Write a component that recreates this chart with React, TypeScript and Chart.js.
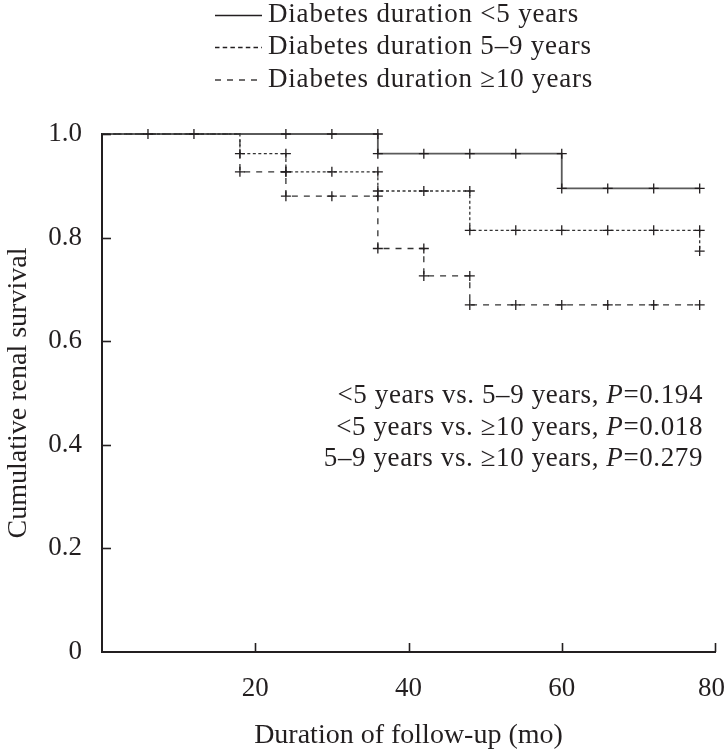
import React, { useEffect, useRef } from 'react';
import { Chart, registerables } from 'chart.js';

Chart.register(...registerables);

// ---- Data ----
const xTicks = [20, 40, 60, 80];
const yTicks = [0, 0.2, 0.4, 0.6, 0.8, 1.0];

const seriesLabels = [
  'Diabetes duration <5 years',
  'Diabetes duration 5–9 years',
  'Diabetes duration ≥10 years',
];

// <5 years (solid)
const lt5Times = [0, 36, 60, 78];
const lt5Surv = [1.0, 0.962, 0.895, 0.895];
const lt5CensorTimes = [24, 30, 36, 36, 42, 48, 54, 60, 60, 66, 72, 78];
const lt5CensorSurv = [1.0, 1.0, 1.0, 0.962, 0.962, 0.962, 0.962, 0.962, 0.895, 0.895, 0.895, 0.895];

// 5–9 years (dotted)
const d59Times = [0, 18, 24, 36, 48, 78];
const d59Surv = [1.0, 0.962, 0.927, 0.890, 0.814, 0.774];
const d59CensorTimes = [18, 24, 24, 30, 36, 36, 42, 48, 48, 54, 60, 66, 72, 78, 78];
const d59CensorSurv = [0.962, 0.962, 0.927, 0.927, 0.927, 0.890, 0.890, 0.890, 0.814, 0.814, 0.814, 0.814, 0.814, 0.814, 0.774];

// >=10 years (dashed)
const ge10Times = [0, 18, 24, 36, 42, 48, 78];
const ge10Surv = [1.0, 0.927, 0.880, 0.779, 0.726, 0.670, 0.670];
const ge10CensorTimes = [6, 12, 18, 24, 24, 30, 36, 36, 42, 42, 48, 48, 54, 60, 66, 72, 78];
const ge10CensorSurv = [1.0, 1.0, 0.927, 0.927, 0.880, 0.880, 0.880, 0.779, 0.779, 0.726, 0.726, 0.670, 0.670, 0.670, 0.670, 0.670, 0.670];

const comparisonLabels = [
  '<5 years vs. 5–9 years, ',
  '<5 years vs. ≥10 years, ',
  '5–9 years vs. ≥10 years, ',
];
const pValues = ['0.194', '0.018', '0.279'];

const xTitle = 'Duration of follow-up (mo)';
const yTitle = 'Cumulative renal survival';

// ---- Styles ----
const INK = '#231f20';
const FONT = "'Liberation Serif', 'Times New Roman', serif";
const FS = 27;
const TITLE_FS = 28;

const toXY = (xs: number[], ys: number[]) => xs.map((x, i) => ({ x, y: ys[i] }));

const decorPlugin = {
  id: 'decor',
  afterDraw(chart: any) {
    const ctx = chart.ctx as any;
    const xs = chart.scales.x;
    const ys = chart.scales.y;
    const { left, bottom } = chart.chartArea;
    const W = chart.width;
    ctx.save();
    // inward tick marks
    ctx.strokeStyle = INK;
    ctx.lineWidth = 1.6;
    xTicks.forEach((v) => {
      const px = Math.round(xs.getPixelForValue(v)) + 0.5;
      ctx.beginPath();
      ctx.moveTo(px, bottom);
      ctx.lineTo(px, bottom - 9);
      ctx.stroke();
    });
    yTicks.filter((v) => v > 0).forEach((v) => {
      const py = Math.round(ys.getPixelForValue(v)) + 0.5;
      ctx.beginPath();
      ctx.moveTo(left, py);
      ctx.lineTo(left + 9, py);
      ctx.stroke();
    });

    // x tick labels (kept inside the canvas)
    ctx.font = `${FS}px ${FONT}`;
    ctx.fillStyle = INK;
    ctx.textBaseline = 'middle';
    ctx.textAlign = 'center';
    xTicks.forEach((v) => {
      const txt = String(v);
      const w = ctx.measureText(txt).width;
      const px = Math.min(xs.getPixelForValue(v), W - w / 2 - 1);
      ctx.fillText(txt, px, bottom + 36.5);
    });

    // legend
    const rows = [15, 47, 79.5];
    ctx.textAlign = 'left';
    for (let i = 0; i < 3; i++) {
      const ds = chart.data.datasets[i];
      ctx.save();
      ctx.strokeStyle = INK;
      ctx.lineWidth = 1.3;
      ctx.setLineDash(ds.legendDash || []);
      ctx.beginPath();
      ctx.moveTo(215, rows[i] + 0.5);
      ctx.lineTo(262, rows[i] + 0.5);
      ctx.stroke();
      ctx.restore();
      ctx.fillStyle = INK;
      ctx.letterSpacing = '0.8px';
      ctx.fillText(ds.label, 268, rows[i]);
    }

    // p-value annotations (right aligned)
    const aRows = [396, 427.5, 459];
    const right = 703;
    ctx.letterSpacing = '0.6px';
    for (let i = 0; i < comparisonLabels.length; i++) {
      const normalFont = `${FS}px ${FONT}`;
      const italFont = `italic ${FS}px ${FONT}`;
      const t1 = comparisonLabels[i];
      const t2 = 'P';
      const t3 = '=' + pValues[i];
      ctx.font = normalFont;
      const w1 = ctx.measureText(t1).width;
      const w3 = ctx.measureText(t3).width;
      ctx.font = italFont;
      const w2 = ctx.measureText(t2).width;
      let x = right - (w1 + w2 + w3);
      ctx.fillStyle = INK;
      ctx.font = normalFont;
      ctx.fillText(t1, x, aRows[i]);
      x += w1;
      ctx.font = italFont;
      ctx.fillText(t2, x, aRows[i]);
      x += w2;
      ctx.font = normalFont;
      ctx.fillText(t3, x, aRows[i]);
    }
    ctx.letterSpacing = '0px';
    ctx.restore();
  },
};

export default function App() {
  const ref = useRef<HTMLCanvasElement | null>(null);

  useEffect(() => {
    if (!ref.current) return;
    Chart.defaults.font.family = FONT;
    Chart.defaults.font.size = FS;
    Chart.defaults.color = INK;

    const lineBase = {
      type: 'line' as const,
      stepped: true,
      pointRadius: 0,
      pointHoverRadius: 0,
      fill: false,
      clip: false as any,
    };
    const censorBase = {
      type: 'scatter' as const,
      showLine: false,
      pointStyle: 'cross' as const,
      pointRadius: 5,
      pointHoverRadius: 5,
      borderColor: INK,
      backgroundColor: INK,
      pointBorderWidth: 1.3,
      borderWidth: 1.3,
      clip: false as any,
      order: 0,
    };

    const chart = new Chart(ref.current, {
      type: 'line',
      data: {
        datasets: [
          {
            ...lineBase,
            label: seriesLabels[0],
            data: toXY(lt5Times, lt5Surv),
            borderColor: '#5a5a5a',
            borderWidth: 1.8,
            borderDash: [],
            legendDash: [],
            order: 3,
          } as any,
          {
            ...lineBase,
            label: seriesLabels[1],
            data: toXY(d59Times, d59Surv),
            borderColor: '#333',
            borderWidth: 1.3,
            borderDash: [3, 2.5],
            legendDash: [4.5, 3.2],
            order: 1,
          } as any,
          {
            ...lineBase,
            label: seriesLabels[2],
            data: toXY(ge10Times, ge10Surv),
            borderColor: '#333',
            borderWidth: 1.3,
            borderDash: [6, 6],
            legendDash: [6, 6],
            order: 2,
          } as any,
          { ...censorBase, label: 'c1', data: toXY(lt5CensorTimes, lt5CensorSurv) } as any,
          { ...censorBase, label: 'c2', data: toXY(d59CensorTimes, d59CensorSurv) } as any,
          { ...censorBase, label: 'c3', data: toXY(ge10CensorTimes, ge10CensorSurv) } as any,
        ],
      },
      options: {
        responsive: false,
        animation: false,
        events: [],
        layout: { padding: { top: 134, right: 11, left: 0, bottom: 0 } },
        plugins: {
          legend: { display: false },
          tooltip: { enabled: false },
        },
        scales: {
          x: {
            type: 'linear',
            min: 0,
            max: 80,
            afterBuildTicks: (scale: any) => {
              scale.ticks = xTicks.map((v) => ({ value: v }));
            },
            afterFit: (scale: any) => {
              scale.height = 100;
              scale.paddingLeft = 0;
              scale.paddingRight = 0;
            },
            ticks: { display: false },
            grid: { display: false, drawTicks: false },
            border: { display: true, color: INK, width: 2 },
            title: {
              display: true,
              text: xTitle,
              color: INK,
              font: { size: TITLE_FS, family: FONT },
              padding: { top: 0, bottom: 0 },
            },
          },
          y: {
            type: 'linear',
            min: 0,
            max: 1,
            afterBuildTicks: (scale: any) => {
              scale.ticks = yTicks.map((v) => ({ value: v }));
            },
            afterFit: (scale: any) => {
              scale.width = 102;
              scale.paddingTop = 0;
              scale.paddingBottom = 0;
            },
            ticks: {
              padding: 20,
              color: INK,
              font: { size: FS, family: FONT },
              callback: (v: any) => (Number(v) === 0 ? '0' : Number(v).toFixed(1)),
            },
            grid: { display: false, drawTicks: false },
            border: { display: true, color: INK, width: 2 },
            title: {
              display: true,
              text: yTitle,
              color: INK,
              font: { size: TITLE_FS, family: FONT },
              padding: { top: 2, bottom: 0 },
            },
          },
        },
      } as any,
      plugins: [decorPlugin],
    });

    return () => chart.destroy();
  }, []);

  return (
    <div style={{ position: 'absolute', left: 0, top: 0, width: 726, height: 752, background: '#fff' }}>
      <canvas ref={ref} width={726} height={752} style={{ display: 'block' }} />
    </div>
  );
}
